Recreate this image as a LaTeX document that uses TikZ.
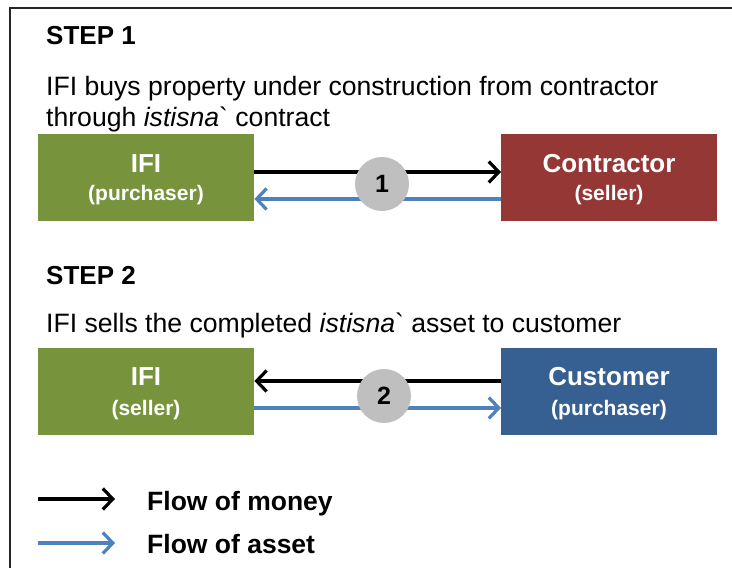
\documentclass[tikz,border=0pt]{standalone}
\usepackage{fontspec}
\setmainfont{Liberation Sans}
\usetikzlibrary{arrows.meta}
\definecolor{ifigreen}{HTML}{77933C}
\definecolor{conred}{HTML}{953735}
\definecolor{cusblue}{HTML}{376092}
\definecolor{assetblue}{HTML}{4F81BD}
\definecolor{circgray}{HTML}{BFBFBF}
\tikzset{
  party/.style={minimum width=216pt, minimum height=87pt, inner sep=0pt, anchor=north west},
  ptitle/.style={anchor=base, text=white, inner sep=0pt, font=\bfseries\fontsize{26}{30}\selectfont},
  psub/.style={anchor=base, text=white, inner sep=0pt, font=\bfseries\fontsize{21}{25}\selectfont},
  steptitle/.style={anchor=base west, inner sep=0pt, font=\bfseries\fontsize{26}{30}\selectfont},
  bodytext/.style={anchor=base west, inner sep=0pt, font=\fontsize{26.6}{31}\selectfont},
  chevron/.style={-{Straight Barb[length=10pt,width=21pt]}},
  money/.style={draw=black, line width=3.2pt, chevron},
  asset/.style={draw=assetblue, line width=3.2pt, chevron},
  numcirc/.style={circle, fill=circgray, minimum size=54pt, inner sep=0pt, font=\bfseries\fontsize{25}{30}\selectfont},
  legtext/.style={anchor=base west, inner sep=0pt, font=\bfseries\fontsize{26.5}{30}\selectfont},
  frameline/.style={draw=black!85, line width=1.6pt},
}
\begin{document}
\begin{tikzpicture}[x=1pt,y=-1pt]
\useasboundingbox (0,0) rectangle (732,568);
\clip (0,0) rectangle (732,568);
\fill[white] (0,0) rectangle (732,568);
\draw[frameline] (760,8) -- (10,8) -- (10,600);

% Step 1
\node[steptitle] (s1) at (46,44) {STEP 1};
\node[bodytext] (b1a) at (46,95) {IFI buys property under construction from contractor};
\node[bodytext] (b1b) at (46,126) {through \textit{istisna}\textasciigrave{} contract};
\node[party, fill=ifigreen] (ifi1) at (38,134) {};
\node[party, fill=conred] (con1) at (501,134) {};
\node[ptitle] (ifi1t) at (146,172) {IFI};
\node[psub] (ifi1s) at (146,200) {(purchaser)};
\node[ptitle] (con1t) at (609,172) {Contractor};
\node[psub] (con1s) at (609,200) {(seller)};
\draw[money] ([yshift=-38pt]ifi1.north east) -- ([yshift=-38pt]con1.north west);
\draw[asset] ([yshift=-65pt]con1.north west) -- ([yshift=-65pt]ifi1.north east);
\node[numcirc] (c1) at (382,184) {1};

% Step 2
\node[steptitle] (s2) at (46,284) {STEP 2};
\node[bodytext] (b2) at (46,332) {IFI sells the completed \textit{istisna}\textasciigrave{} asset to customer};
\node[party, fill=ifigreen] (ifi2) at (38,348) {};
\node[party, fill=cusblue] (cus2) at (501,348) {};
\node[ptitle] (ifi2t) at (146,385) {IFI};
\node[psub] (ifi2s) at (146,415) {(seller)};
\node[ptitle] (cus2t) at (609,385) {Customer};
\node[psub] (cus2s) at (609,415) {(purchaser)};
\draw[money] ([yshift=-33pt]cus2.north west) -- ([yshift=-33pt]ifi2.north east);
\draw[asset] ([yshift=-60pt]ifi2.north east) -- ([yshift=-60pt]cus2.north west);
\node[numcirc] (c2) at (384,396) {2};

% Legend
\coordinate (lm1) at (38,499);
\coordinate (lm2) at (115,499);
\coordinate (la1) at (38,543);
\coordinate (la2) at (115,543);
\draw[money] (lm1) -- (lm2);
\draw[asset] (la1) -- (la2);
\node[legtext] (lmt) at (147,510) {Flow of money};
\node[legtext] (lat) at (147,553) {Flow of asset};
\end{tikzpicture}
\end{document}
